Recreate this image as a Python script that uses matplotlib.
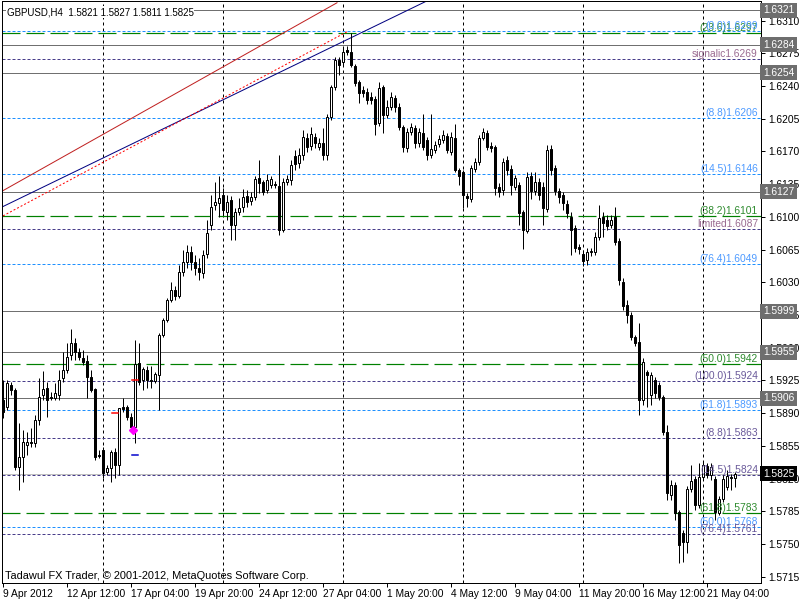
import matplotlib
matplotlib.use('Agg')
import matplotlib.pyplot as plt
from matplotlib.patches import Rectangle

plt.rcParams['font.family'] = ['Liberation Sans', 'DejaVu Sans']
plt.rcParams['lines.scale_dashes'] = False
FS = 7.4

# GBPUSD H4 candles (oldest first)
opens = [
    1.5904, 1.5896, 1.5920, 1.5915, 1.5832, 1.5843, 1.5856, 1.5859, 1.5858, 1.5883,
    1.5909, 1.5917, 1.5907, 1.5906, 1.5909, 1.5928, 1.5936, 1.5952, 1.5965, 1.5955,
    1.5949, 1.5946, 1.5929, 1.5916, 1.5845, 1.5850, 1.5827, 1.5831, 1.5848, 1.5834,
    1.5896, 1.5896, 1.5886, 1.5875, 1.5944, 1.5925, 1.5936, 1.5925, 1.5924, 1.5931,
    1.5974, 1.5990, 1.6011, 1.6022, 1.6015, 1.6041, 1.6052, 1.6062, 1.6052, 1.6045,
    1.6040, 1.6060, 1.6091, 1.6113, 1.6115, 1.6123, 1.6105, 1.6118, 1.6091, 1.6105,
    1.6111, 1.6122, 1.6117, 1.6121, 1.6142, 1.6137, 1.6129, 1.6134, 1.6135, 1.6133,
    1.6086, 1.6137, 1.6139, 1.6165, 1.6158, 1.6166, 1.6184, 1.6176, 1.6185, 1.6175,
    1.6179, 1.6166, 1.6207, 1.6239, 1.6268, 1.6266, 1.6278, 1.6276, 1.6261, 1.6244,
    1.6236, 1.6234, 1.6228, 1.6226, 1.6200, 1.6239, 1.6209, 1.6217, 1.6227, 1.6217,
    1.6196, 1.6174, 1.6191, 1.6195, 1.6179, 1.6190, 1.6182, 1.6166, 1.6172, 1.6178,
    1.6182, 1.6186, 1.6169, 1.6184, 1.6150, 1.6148, 1.6122, 1.6119, 1.6151, 1.6159,
    1.6184, 1.6190, 1.6176, 1.6175, 1.6132, 1.6129, 1.6161, 1.6151, 1.6132, 1.6134,
    1.6105, 1.6085, 1.6144, 1.6128, 1.6137, 1.6132, 1.6108, 1.6173, 1.6152, 1.6128,
    1.6123, 1.6114, 1.6100, 1.6088, 1.6068, 1.6060, 1.6054, 1.6062, 1.6062, 1.6078,
    1.6100, 1.6097, 1.6091, 1.6100, 1.6074, 1.6030, 1.6006, 1.5995, 1.5971, 1.5966,
    1.5904, 1.5934, 1.5909, 1.5925, 1.5920, 1.5907, 1.5870, 1.5802, 1.5813, 1.5784,
    1.5762, 1.5752, 1.5809, 1.5819, 1.5792, 1.5822, 1.5833, 1.5824, 1.5819, 1.5783,
    1.5798, 1.5811, 1.5822, 1.5821,
]
highs = [
    1.5925, 1.5925, 1.5923, 1.5917, 1.5879, 1.5872, 1.5870, 1.5874, 1.5888, 1.5928,
    1.5935, 1.5923, 1.5913, 1.5922, 1.5936, 1.5955, 1.5965, 1.5980, 1.5970, 1.5960,
    1.5957, 1.5952, 1.5936, 1.5917, 1.5850, 1.5854, 1.5834, 1.5850, 1.5853, 1.5895,
    1.5906, 1.5899, 1.5890, 1.5968, 1.5965, 1.5939, 1.5940, 1.5940, 1.5934, 1.5976,
    1.5992, 1.6013, 1.6030, 1.6026, 1.6048, 1.6064, 1.6070, 1.6069, 1.6059, 1.6056,
    1.6064, 1.6097, 1.6123, 1.6137, 1.6144, 1.6131, 1.6123, 1.6122, 1.6109, 1.6120,
    1.6130, 1.6129, 1.6127, 1.6144, 1.6161, 1.6139, 1.6146, 1.6144, 1.6138, 1.6166,
    1.6142, 1.6145, 1.6161, 1.6172, 1.6174, 1.6193, 1.6190, 1.6196, 1.6190, 1.6184,
    1.6195, 1.6210, 1.6241, 1.6271, 1.6271, 1.6281, 1.6283, 1.6297, 1.6264, 1.6246,
    1.6240, 1.6238, 1.6234, 1.6229, 1.6244, 1.6241, 1.6225, 1.6234, 1.6230, 1.6222,
    1.6198, 1.6195, 1.6200, 1.6198, 1.6195, 1.6210, 1.6185, 1.6210, 1.6181, 1.6188,
    1.6193, 1.6190, 1.6191, 1.6199, 1.6152, 1.6150, 1.6125, 1.6155, 1.6163, 1.6188,
    1.6195, 1.6193, 1.6180, 1.6177, 1.6136, 1.6163, 1.6165, 1.6155, 1.6145, 1.6137,
    1.6107, 1.6148, 1.6148, 1.6148, 1.6142, 1.6137, 1.6177, 1.6177, 1.6155, 1.6131,
    1.6127, 1.6118, 1.6105, 1.6091, 1.6071, 1.6064, 1.6067, 1.6067, 1.6084, 1.6113,
    1.6105, 1.6102, 1.6102, 1.6111, 1.6077, 1.6035, 1.6011, 1.5998, 1.5974, 1.5986,
    1.5949, 1.5936, 1.5934, 1.5929, 1.5923, 1.5909, 1.5877, 1.5818, 1.5816, 1.5786,
    1.5765, 1.5812, 1.5834, 1.5823, 1.5837, 1.5838, 1.5837, 1.5837, 1.5823, 1.5801,
    1.5824, 1.5829, 1.5825, 1.5827,
]
lows = [
    1.5885, 1.5893, 1.5909, 1.5829, 1.5808, 1.5816, 1.5845, 1.5854, 1.5854, 1.5877,
    1.5904, 1.5886, 1.5904, 1.5904, 1.5904, 1.5923, 1.5933, 1.5947, 1.5947, 1.5947,
    1.5941, 1.5906, 1.5913, 1.5840, 1.5842, 1.5821, 1.5824, 1.5816, 1.5821, 1.5824,
    1.5891, 1.5883, 1.5872, 1.5858, 1.5920, 1.5915, 1.5917, 1.5917, 1.5922, 1.5893,
    1.5971, 1.5987, 1.6009, 1.6011, 1.6013, 1.6037, 1.6045, 1.6043, 1.6038, 1.6032,
    1.6035, 1.6056, 1.6086, 1.6107, 1.6100, 1.6102, 1.6097, 1.6075, 1.6075, 1.6102,
    1.6105, 1.6111, 1.6113, 1.6118, 1.6125, 1.6123, 1.6125, 1.6131, 1.6131, 1.6081,
    1.6084, 1.6134, 1.6134, 1.6150, 1.6152, 1.6161, 1.6169, 1.6172, 1.6174, 1.6172,
    1.6161, 1.6161, 1.6204, 1.6236, 1.6252, 1.6261, 1.6273, 1.6260, 1.6240, 1.6222,
    1.6228, 1.6221, 1.6221, 1.6187, 1.6197, 1.6190, 1.6206, 1.6214, 1.6212, 1.6193,
    1.6169, 1.6169, 1.6188, 1.6174, 1.6175, 1.6172, 1.6161, 1.6163, 1.6168, 1.6175,
    1.6179, 1.6168, 1.6166, 1.6148, 1.6134, 1.6109, 1.6111, 1.6116, 1.6148, 1.6155,
    1.6182, 1.6172, 1.6169, 1.6123, 1.6121, 1.6123, 1.6145, 1.6123, 1.6129, 1.6091,
    1.6066, 1.6083, 1.6119, 1.6123, 1.6118, 1.6091, 1.6105, 1.6145, 1.6123, 1.6115,
    1.6107, 1.6099, 1.6059, 1.6062, 1.6060, 1.6047, 1.6048, 1.6058, 1.6059, 1.6075,
    1.6078, 1.6086, 1.6088, 1.6070, 1.6027, 1.6000, 1.5986, 1.5968, 1.5962, 1.5888,
    1.5899, 1.5897, 1.5899, 1.5906, 1.5904, 1.5867, 1.5797, 1.5797, 1.5776, 1.5730,
    1.5731, 1.5740, 1.5806, 1.5786, 1.5788, 1.5818, 1.5821, 1.5818, 1.5776, 1.5781,
    1.5795, 1.5808, 1.5808, 1.5811,
]
closes = [
    1.5891, 1.5922, 1.5915, 1.5832, 1.5843, 1.5859, 1.5859, 1.5858, 1.5883, 1.5907,
    1.5916, 1.5904, 1.5906, 1.5911, 1.5925, 1.5936, 1.5950, 1.5965, 1.5955, 1.5950,
    1.5945, 1.5929, 1.5915, 1.5843, 1.5844, 1.5826, 1.5831, 1.5848, 1.5834, 1.5895,
    1.5894, 1.5886, 1.5875, 1.5942, 1.5923, 1.5937, 1.5925, 1.5924, 1.5932, 1.5974,
    1.5990, 1.6011, 1.6022, 1.6015, 1.6041, 1.6052, 1.6062, 1.6052, 1.6045, 1.6041,
    1.6059, 1.6083, 1.6111, 1.6116, 1.6120, 1.6107, 1.6116, 1.6091, 1.6105, 1.6109,
    1.6121, 1.6116, 1.6121, 1.6140, 1.6136, 1.6127, 1.6139, 1.6140, 1.6134, 1.6086,
    1.6137, 1.6140, 1.6155, 1.6157, 1.6166, 1.6185, 1.6175, 1.6189, 1.6179, 1.6179,
    1.6166, 1.6207, 1.6239, 1.6268, 1.6262, 1.6276, 1.6276, 1.6262, 1.6243, 1.6232,
    1.6232, 1.6225, 1.6225, 1.6199, 1.6238, 1.6209, 1.6217, 1.6228, 1.6217, 1.6196,
    1.6175, 1.6191, 1.6196, 1.6179, 1.6191, 1.6175, 1.6166, 1.6173, 1.6177, 1.6183,
    1.6188, 1.6172, 1.6185, 1.6150, 1.6144, 1.6123, 1.6120, 1.6152, 1.6159, 1.6184,
    1.6191, 1.6175, 1.6174, 1.6131, 1.6127, 1.6159, 1.6150, 1.6134, 1.6142, 1.6104,
    1.6086, 1.6143, 1.6128, 1.6137, 1.6123, 1.6109, 1.6172, 1.6150, 1.6128, 1.6121,
    1.6115, 1.6104, 1.6086, 1.6067, 1.6066, 1.6053, 1.6062, 1.6063, 1.6078, 1.6099,
    1.6093, 1.6090, 1.6097, 1.6073, 1.6032, 1.6005, 1.5995, 1.5971, 1.5965, 1.5904,
    1.5945, 1.5931, 1.5931, 1.5911, 1.5907, 1.5870, 1.5805, 1.5813, 1.5783, 1.5749,
    1.5752, 1.5809, 1.5817, 1.5792, 1.5822, 1.5834, 1.5824, 1.5832, 1.5784, 1.5798,
    1.5820, 1.5823, 1.5821, 1.5825,
]

time_ticks = [0, 16, 32, 48, 64, 80, 96, 112, 128, 144, 160, 176]
time_labels = ['9 Apr 2012', '12 Apr 12:00', '17 Apr 04:00', '19 Apr 20:00',
               '24 Apr 12:00', '27 Apr 04:00', '1 May 20:00', '4 May 12:00',
               '9 May 04:00', '11 May 20:00', '16 May 12:00', '21 May 04:00']
grid_bars = [25, 55, 85, 115, 145, 175]
price_ticks = [1.6310, 1.6275, 1.6240, 1.6205, 1.6170, 1.6135, 1.6100, 1.6065,
               1.6030, 1.5995, 1.5960, 1.5925, 1.5890, 1.5855, 1.5820, 1.5785,
               1.5750, 1.5715]

gray_levels = [1.6321, 1.6284, 1.6254, 1.6127, 1.5999, 1.5955, 1.5906]
bid = 1.5825
green_levels = [1.6297, 1.6101, 1.5942, 1.5783]
green_labels = ['(23.6)1.6297', '(38.2)1.6101', '(50.0)1.5942', '(61.8)1.5783']
blue_levels = [1.6299, 1.6206, 1.6146, 1.6049, 1.5893, 1.5768]
blue_labels = ['(0.0)1.6299', '(8.8)1.6206', '(14.5)1.6146', '(76.4)1.6049',
               '(61.8)1.5893', '(50.0)1.5768']
slate_levels = [1.6269, 1.6087, 1.5924, 1.5863, 1.5824, 1.5761]
slate_labels = ['signalic1.6269', 'limited1.6087', '(100.0)1.5924', '(8.8)1.5863',
                '(14.5)1.5824', '(76.4)1.5761']

# trend lines: (bar, price) end points
red_line = ([0, 83.5], [1.6128, 1.6329])
navy_line = ([0, 105.5], [1.6111, 1.6330])
red_dot_line = ([0, 86], [1.6101, 1.6298])

PX = 0.72  # one pixel in points at dpi 100

fig = plt.figure(figsize=(8, 6), dpi=100)
ax = fig.add_axes([2 / 800, 17 / 600, 759 / 800, 582 / 600])
ax.set_xlim(-0.25, 189.5)
ax.set_ylim(1.57082, 1.63309)

for b in grid_bars:
    ax.axvline(b, color='black', lw=PX, ls=(0, (3 * PX, 3 * PX)), zorder=1)

for lv in gray_levels:
    ax.axhline(lv, color='#707070', lw=PX, zorder=2)
ax.axhline(bid, color='#c0c0c0', lw=PX, zorder=2)
for lv in blue_levels:
    ax.axhline(lv, color='#1e90ff', lw=PX, ls=(0, (3 * PX, 2 * PX)), zorder=2)
for lv in slate_levels:
    ax.axhline(lv, color='#483d8b', lw=PX, ls=(0, (3 * PX, 2 * PX)), zorder=2)
for lv in green_levels:
    ax.axhline(lv, color='#008000', lw=1.2 * PX, ls=(0, (18 * PX, 6 * PX)), zorder=2)

ax.plot(*red_line, color='#c02020', lw=PX, zorder=2.5)
ax.plot(*navy_line, color='#000080', lw=PX, zorder=2.5)
ax.plot(*red_dot_line, color='#ff0000', lw=PX, ls=(0, (2 * PX, 2 * PX)), zorder=2.5)

# candles
for i in range(len(closes)):
    o, h, l, c = opens[i], highs[i], lows[i], closes[i]
    ax.plot([i, i], [l, h], color='black', lw=PX, zorder=3, solid_capstyle='butt')
    if abs(c - o) < 0.00005:
        ax.plot([i - 0.35, i + 0.35], [o, o], color='black', lw=PX, zorder=4)
    else:
        fc = 'white' if c > o else 'black'
        ax.add_patch(Rectangle((i - 0.32, min(o, c)), 0.64, abs(c - o),
                               facecolor=fc, edgecolor='black', lw=PX, zorder=4))

# trade markers
ax.plot([27.3, 28.7], [1.5890, 1.5890], color='red', lw=1.5 * PX, zorder=5)
ax.plot([32.3, 33.7], [1.5925, 1.5925], color='red', lw=1.5 * PX, zorder=5)
ax.plot([32.3, 33.7], [1.5845, 1.5845], color='#0000cc', lw=1.5 * PX, zorder=5)
ax.plot([32.6], [1.5872], marker='D', ms=4, color='#ff00ff', zorder=5)

# level labels
lab_x = 0.996
ytr = ax.get_yaxis_transform()
for lv, t in zip(green_levels, green_labels):
    ax.text(lab_x, lv, t, transform=ytr, ha='right', va='bottom',
            fontsize=FS, color='#2e8b2e', zorder=6)
for lv, t in zip(blue_levels, blue_labels):
    ax.text(lab_x, lv, t, transform=ytr, ha='right', va='bottom',
            fontsize=FS, color='#4d9aff', zorder=6)
for lv, t in zip(slate_levels, slate_labels):
    col = '#9a6a90' if t[0] != '(' else '#6a5a9a'
    ax.text(lab_x, lv, t, transform=ytr, ha='right', va='bottom',
            fontsize=FS, color=col, zorder=6)

# price axis
ax.yaxis.tick_right()
ax.set_yticks(price_ticks)
ax.set_yticklabels(['%.4f' % p for p in price_ticks])
ax.tick_params(axis='y', labelsize=FS, length=3, width=PX, pad=2, colors='black')
for lv in gray_levels:
    ax.text(1.0025, lv, '%.4f' % lv, transform=ytr, ha='left',
            va='center', fontsize=FS, color='white', zorder=7, clip_on=False,
            bbox=dict(boxstyle='square,pad=0.25', fc='#6e6e6e', ec='none'))
ax.text(1.0025, bid, '%.4f' % bid, transform=ytr, ha='left',
        va='center', fontsize=FS, color='white', zorder=7, clip_on=False,
        bbox=dict(boxstyle='square,pad=0.25', fc='black', ec='none'))

# time axis
ax.set_xticks(time_ticks)
ax.set_xticklabels(time_labels)
for lbl in ax.get_xticklabels():
    lbl.set_horizontalalignment('left')
ax.tick_params(axis='x', labelsize=FS, length=3, width=PX, pad=1)

for sp in ax.spines.values():
    sp.set_linewidth(PX)
    sp.set_color('black')

ax.text(0.006, 0.981, 'GBPUSD,H4  1.5821 1.5827 1.5811 1.5825', transform=ax.transAxes,
        fontsize=7.0, va='center', ha='left', zorder=8,
        bbox=dict(boxstyle='square,pad=0.1', fc='white', ec='none'))
ax.text(0.004, 0.012, 'Tadawul FX Trader, \u00a9 2001-2012, MetaQuotes Software Corp.',
        transform=ax.transAxes, fontsize=7.9, va='center', ha='left', zorder=8)

fig.savefig('out.png', dpi=100, facecolor='white')
